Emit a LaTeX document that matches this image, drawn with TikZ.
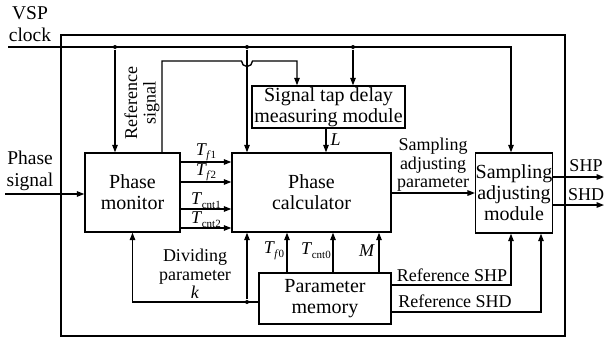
\documentclass[tikz,border=0pt]{standalone}
\usepackage{fontspec}
\setmainfont{Liberation Serif}
\usetikzlibrary{arrows.meta}
\newcommand{\Tv}[1]{\textit{T}\kern-0.5pt\raisebox{-0.45ex}{\fontsize{11}{11}\selectfont #1}}
\begin{document}
\begin{tikzpicture}[x=1pt,y=-1pt,line width=1.35pt,
  arr/.style={-{Triangle[length=7.5pt,width=5.5pt]}},
  box/.style={draw,rectangle,inner sep=0pt,align=center,font=\fontsize{20}{21}\selectfont},
  lab/.style={inner sep=1pt,align=center,font=\fontsize{18}{18.5}\selectfont},
  biglab/.style={inner sep=1pt,align=center,font=\fontsize{19.5}{22}\selectfont},
  dot/.style={circle,fill,inner sep=0pt,minimum size=4pt}]
\useasboundingbox (0,0) rectangle (607,338);
% frame
\draw (61,35) rectangle (565,336);
% boxes
\node[box,minimum width=95pt,minimum height=79pt] (pm) at (132.5,192.5) {Phase\\monitor};
\node[box,minimum width=159pt,minimum height=79pt] (pc) at (311.5,192.5) {Phase\\calculator};
\node[box,minimum width=153pt,minimum height=42pt] (st) at (328.5,107) {Signal tap delay\\measuring module};
\node[box,minimum width=74pt,minimum height=80pt] (sa) at (514,193) {Sampling\\adjusting\\module};
\node[box,minimum width=132pt,minimum height=51pt] (mem) at (325,298.5) {Parameter\\memory};
% texts
\node[biglab] (vsp) at (30,24) {VSP\\clock};
\node[biglab] (phs) at (30,171) {Phase\\signal};
\node[lab,rotate=90] (refsig) at (142,103) {Reference\\signal};
\node[lab] (div) at (195,274) {Dividing\\parameter\\\textit{k}};
\node[lab] (sap) at (433,165) {Sampling\\adjusting\\parameter};
% VSP clock line
\coordinate (vspin) at (8,47);
\node[dot] (d1) at (115,47) {};
\node[dot] (d2) at (247,47) {};
\node[dot] (d3) at (353,47) {};
\draw[arr] (vspin) -- (511,47) -- (sa.north -| 511,0);
\draw[arr] (d1) -- (d1 |- pm.north);
\draw[arr] (d2) -- (d2 |- pc.north);
\draw[arr] (d3) -- (d3 |- st.north);
% reference signal with hop
\draw[arr] (pm.north -| 162,0) -- (162,61) -- (241.5,61) arc[start angle=180,end angle=0,radius=5.5] -- (297,61) -- (st.north -| 297,0);
% L
\draw[arr] (st.south -| 326,0) -- (pc.north -| 326,0) node[pos=0.45,right,lab,xshift=3pt] {\textit{L}};
% monitor -> calculator
\draw[arr] (pm.east |- 0,162) -- (pc.west |- 0,162) node[midway,above,lab,inner sep=0pt] {\Tv{\textit{f}1}};
\draw[arr] (pm.east |- 0,182) -- (pc.west |- 0,182) node[midway,above,lab,inner sep=0pt] {\Tv{\textit{f}2}};
\draw[arr] (pm.east |- 0,209) -- (pc.west |- 0,209) node[midway,above,lab,inner sep=0pt] {\Tv{cnt1}};
\draw[arr] (pm.east |- 0,228) -- (pc.west |- 0,228) node[midway,above,lab,inner sep=0pt] {\Tv{cnt2}};
% phase signal in
\coordinate (phin) at (5,194);
\draw[arr] (phin) -- (phin -| pm.west);
% dividing parameter
\node[dot] (dk) at (247,302) {};
\draw[arr] (mem.west |- 0,302) -| (pm.south);
\draw[arr] (dk) -- (dk |- pc.south);
% memory -> calculator
\draw[arr] (mem.north -| 287,0) -- (pc.south -| 287,0);
\draw[arr] (mem.north -| 333,0) -- (pc.south -| 333,0);
\draw[arr] (mem.north -| 379,0) -- (pc.south -| 379,0);
\node[lab] (tf0) at (274,251) {\Tv{\textit{f}0}};
\node[lab] (tc0) at (316,251) {\Tv{cnt0}};
\node[lab] (mm) at (367,251) {\textit{M}};
% calculator -> sampling
\draw[arr] (pc.east |- 0,193) -- (sa.west |- 0,193);
% outputs
\coordinate (shpout) at (604,177);
\coordinate (shdout) at (604,205);
\draw[arr] (sa.east |- shpout) -- (shpout);
\draw[arr] (sa.east |- shdout) -- (shdout);
\node[lab] (shp) at (586,166) {SHP};
\node[lab] (shd) at (586,195) {SHD};
% reference SHP / SHD
\draw[arr] (mem.east |- 0,285) -| (sa.south -| 511,0);
\draw[arr] (mem.east |- 0,312) -| (sa.south -| 541,0);
\node[lab] (rshp) at (452,275) {Reference SHP};
\node[lab] (rshd) at (455,301) {Reference SHD};
\end{tikzpicture}
\end{document}
